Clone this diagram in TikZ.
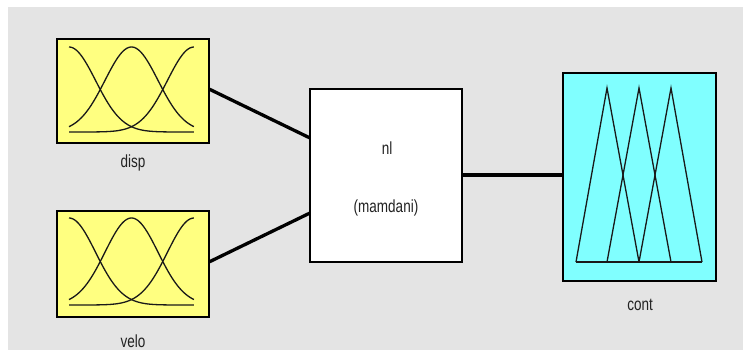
\documentclass[tikz,border=0pt]{standalone}
\usepackage{fontspec}
\setmainfont{Liberation Sans}
\usetikzlibrary{calc}
\definecolor{bggrey}{HTML}{E4E4E4}
\definecolor{inyellow}{HTML}{FFFF80}
\definecolor{outcyan}{HTML}{80FFFF}
\definecolor{txtgrey}{HTML}{222222}
\newcommand{\drawgauss}[4]{% x0, ybase, width, height
  \foreach \c in {0,0.5,1}{
    \draw[mfline] plot[domain=0:1,samples=70,smooth] ({#1+#3*\x},{#2-#4*exp(-((\x-\c)^2)/(2*0.2123*0.2123))});
  }
}
\tikzset{
  fisbox/.style={draw=black,line width=2pt,rectangle,inner sep=0pt,outer sep=0pt},
  mfline/.style={draw=black!90,line width=1.3pt},
  conn/.style={draw=black,line width=3.3pt},
  lbl/.style={font=\fontsize{13.5}{15}\selectfont,text=txtgrey,inner sep=0pt,yscale=1.3,transform shape}
}
\begin{document}
\begin{tikzpicture}[x=1pt,y=-1pt]
\useasboundingbox (0,0) rectangle (743,350);
\fill[white] (0,0) rectangle (743,350);
\fill[bggrey] (8,7) rectangle (743,350);
% boxes
\node[fisbox,fill=inyellow,minimum width=152pt,minimum height=104pt] (disp) at (133,91) {};
\node[fisbox,fill=inyellow,minimum width=152pt,minimum height=106pt] (velo) at (133,264) {};
\node[fisbox,fill=white,minimum width=152pt,minimum height=173pt] (nl) at (386,175.5) {};
\node[fisbox,fill=outcyan,minimum width=153pt,minimum height=208pt] (cont) at (639.5,177) {};
% membership functions
\drawgauss{69}{132}{125}{85}
\drawgauss{69}{305}{125}{87}
\draw[mfline] (576,262) -- (607,88) -- (639,262);
\draw[mfline] (607,262) -- (639,88) -- (671,262);
\draw[mfline] (639,262) -- (671,88) -- (702,262);
\draw[mfline] (576,262) -- (702,262);
% labels
\node[lbl] (displbl) at (133,163) {disp};
\node[lbl] (velolbl) at (133,341) {velo};
\node[lbl] (nllbl) at (387,148) {nl};
\node[lbl] (mamlbl) at (386,208) {(mamdani)};
\node[lbl] (contlbl) at (640,305) {cont};
% connectors
\coordinate (nlin1) at ([yshift=37.5pt]nl.west);
\coordinate (nlin2) at ([yshift=-37.5pt]nl.west);
\coordinate (dispout) at ([yshift=2pt]disp.east);
\coordinate (veloout) at ([yshift=2pt]velo.east);
\draw[conn] (dispout) -- (nlin1);
\draw[conn] (veloout) -- (nlin2);
\draw[conn] ([yshift=0.5pt]nl.east) -- ([yshift=2pt]cont.west);
\end{tikzpicture}
\end{document}
